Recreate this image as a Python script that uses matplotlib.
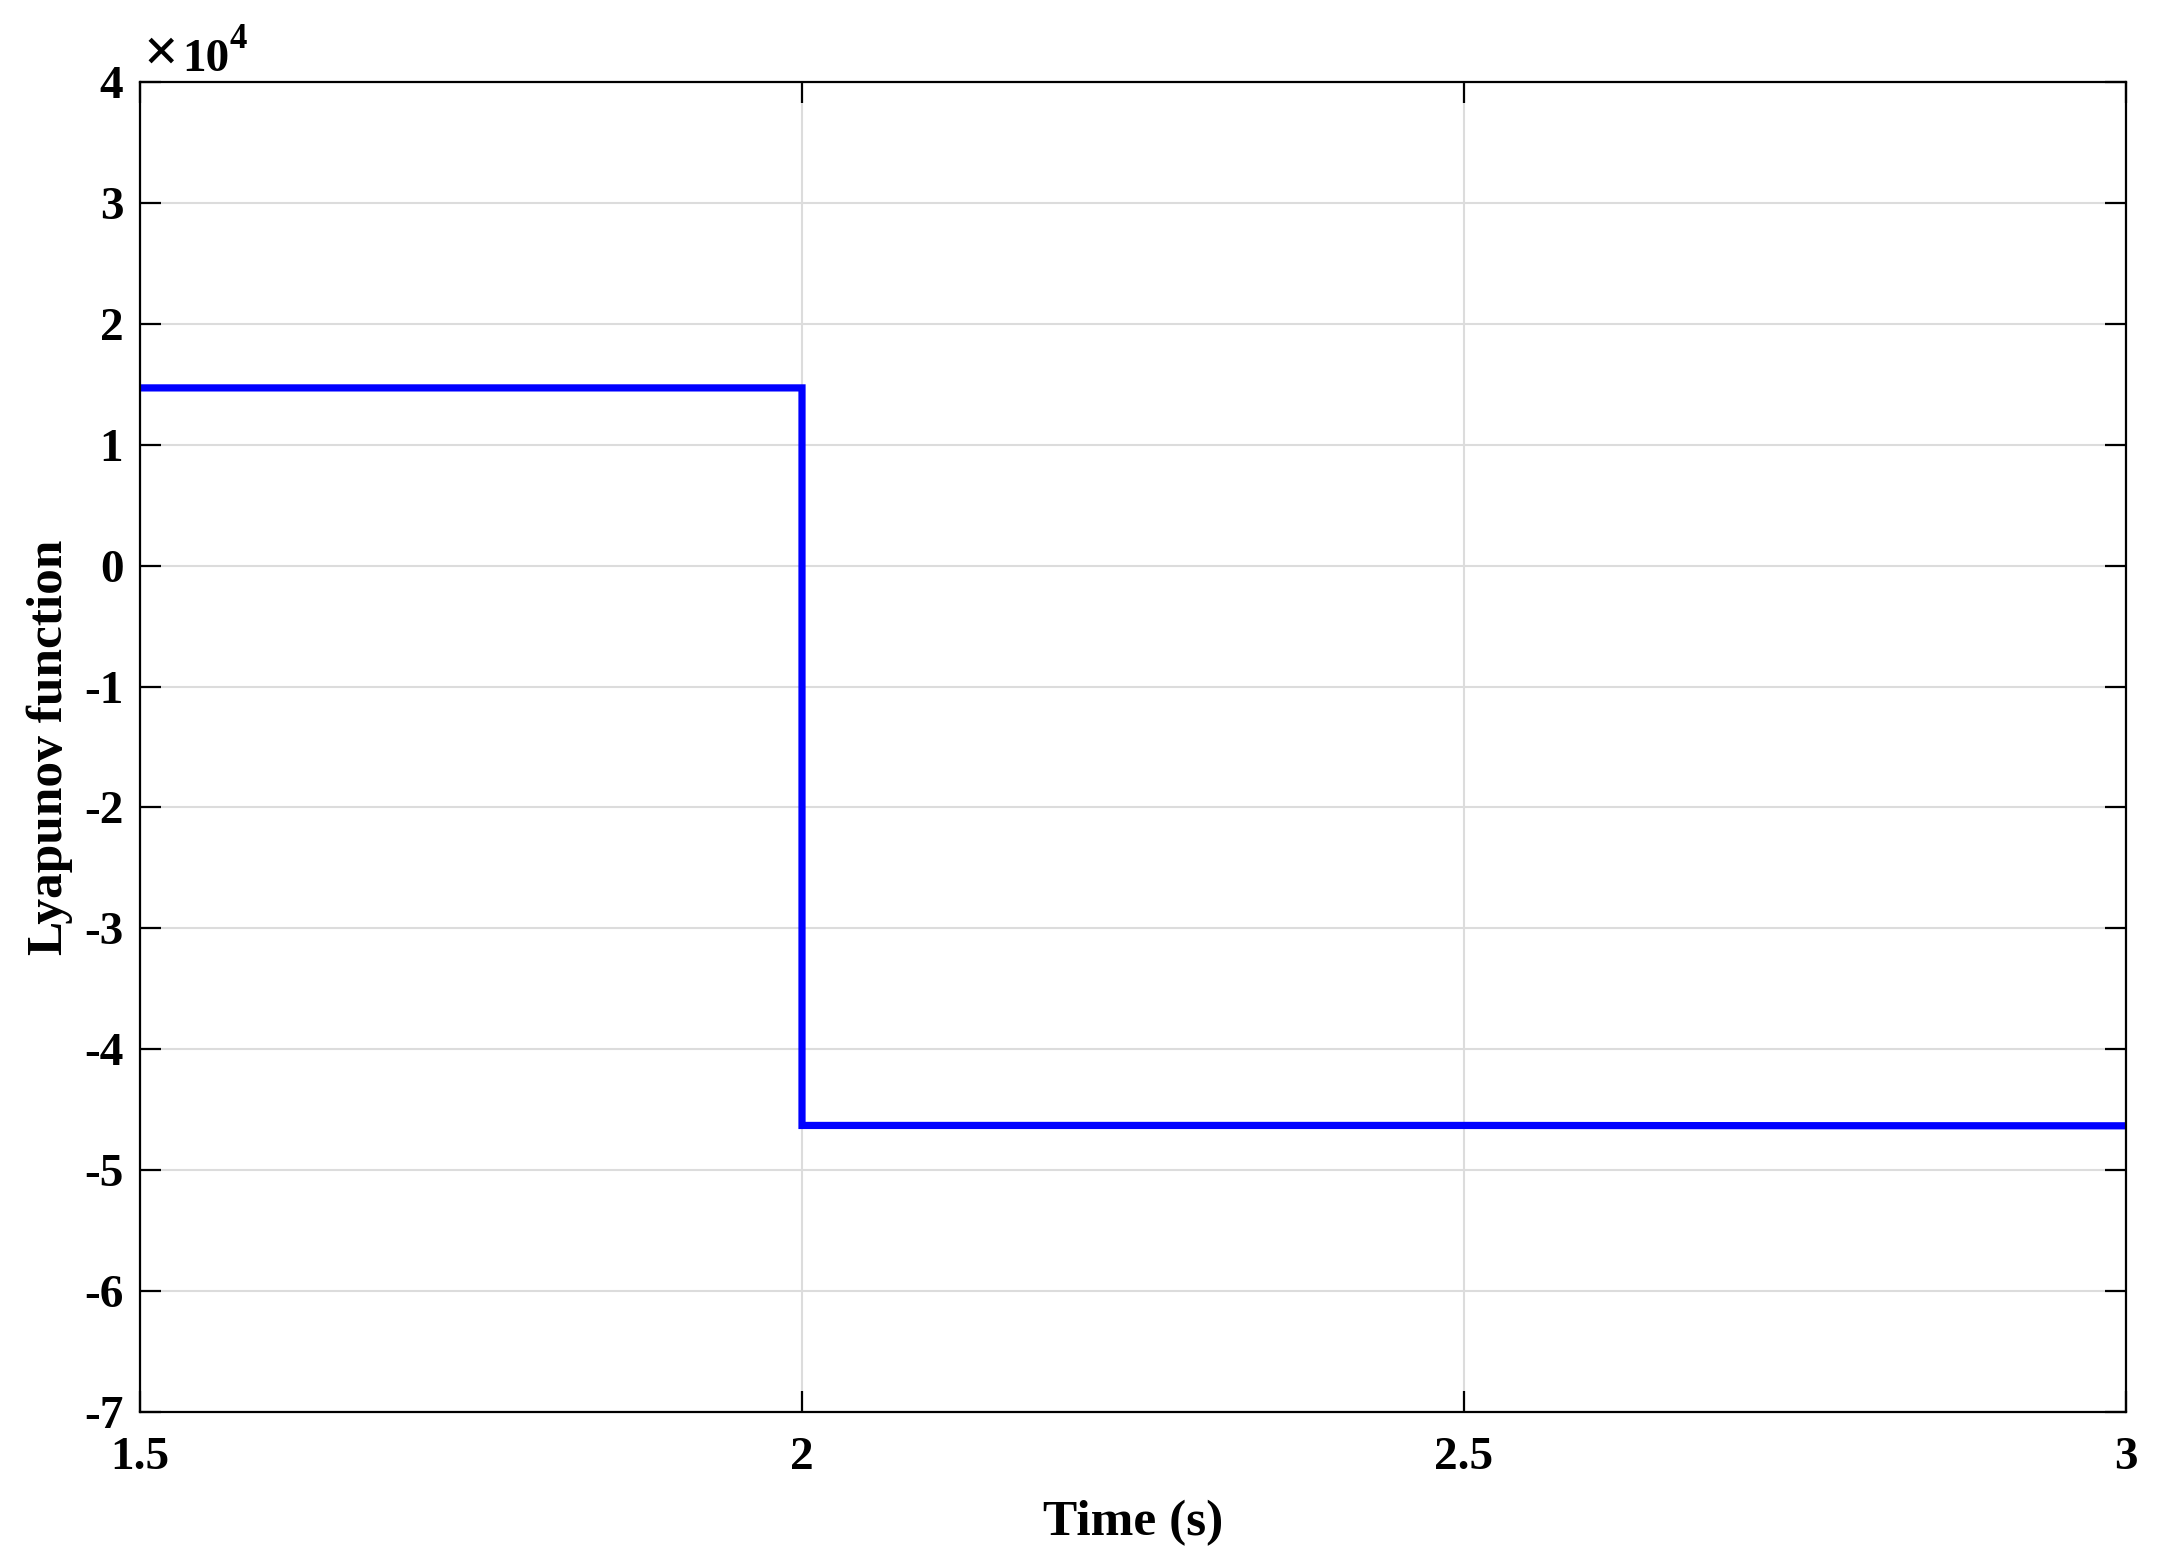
import numpy as np
import matplotlib.pyplot as plt
from matplotlib.ticker import FuncFormatter

# step response of the Lyapunov function
t = [1.5, 2.0, 2.0, 2.5, 2.75, 3.0]
v = [14700, 14700, -46300, -46300, -46320, -46330]

x_ticks = [1.5, 2.0, 2.5, 3.0]
x_labels = ["1.5", "2", "2.5", "3"]
y_ticks = np.arange(-7e4, 4.01e4, 1e4)

plt.rcParams["font.family"] = "Liberation Serif"
plt.rcParams["font.weight"] = "bold"

W, H = 2157, 1568
fig = plt.figure(figsize=(W / 100, H / 100), dpi=100)
ax = fig.add_axes([140 / W, 1 - 1412 / H, (2126 - 140) / W, (1412 - 82) / H])

ax.plot(t, v, color="#0000ff", linewidth=5.2, solid_joinstyle="miter")

ax.set_xlim(1.5, 3.0)
ax.set_ylim(-7e4, 4e4)
ax.set_xticks(x_ticks)
ax.set_xticklabels(x_labels)
ax.set_yticks(y_ticks)
ax.yaxis.set_major_formatter(FuncFormatter(lambda y, p: "%d" % round(y / 1e4)))

ax.grid(True, color="#dcdcdc", linewidth=1.5)
ax.set_axisbelow(True)
for s in ax.spines.values():
    s.set_linewidth(1.6)
ax.tick_params(direction="in", length=15, width=1.6, labelsize=34,
               top=True, right=True)
ax.tick_params(axis="x", pad=18)
ax.tick_params(axis="y", pad=12)

ax.set_xlabel("Time (s)", fontsize=37, fontweight="bold", labelpad=15)
ax.set_ylabel("Lyapunov function", fontsize=37, fontweight="bold", labelpad=8)

# exponent label, MATLAB style
fig.text(143 / W, 1 - 71 / H, "\u00d7", fontsize=44, ha="left", va="baseline")
fig.text(182 / W, 1 - 71 / H, "10", fontsize=34, ha="left", va="baseline")
fig.text(230 / W, 1 - 48 / H, "4", fontsize=25, ha="left", va="baseline")

fig.savefig("out.png", dpi=100)
